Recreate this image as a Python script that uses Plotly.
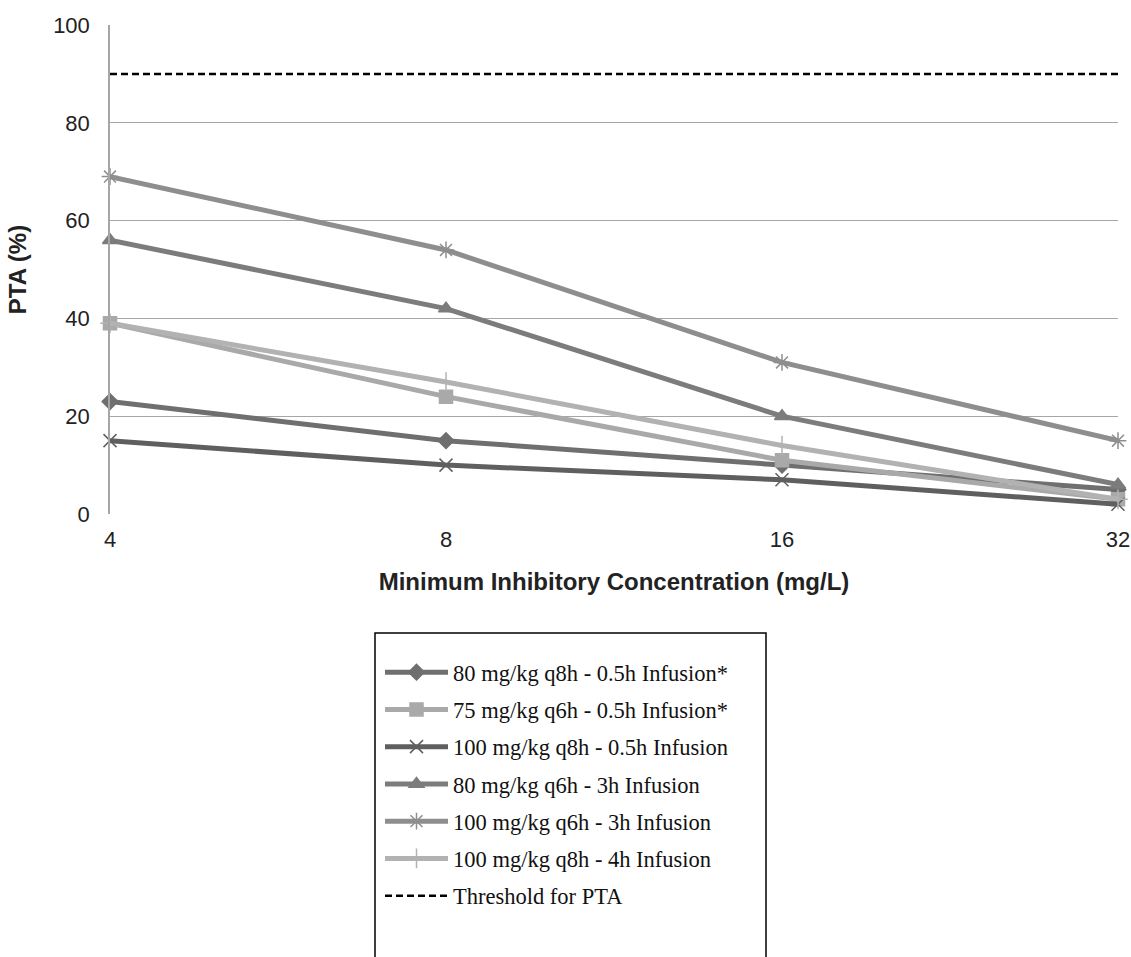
import plotly.graph_objects as go

mic = ["4", "8", "16", "32"]
names = [
    "80 mg/kg q8h - 0.5h Infusion*",
    "75 mg/kg q6h - 0.5h Infusion*",
    "100 mg/kg q8h - 0.5h Infusion",
    "80 mg/kg q6h - 3h Infusion",
    "100 mg/kg q6h - 3h Infusion",
    "100 mg/kg q8h - 4h Infusion",
]
s1 = [23, 15, 10, 5]
s2 = [39, 24, 11, 3]
s3 = [15, 10, 7, 2]
s4 = [56, 42, 20, 6]
s5 = [69, 54, 31, 15]
s6 = [39, 27, 14, 3]
threshold = [90, 90, 90, 90]
threshold_name = "Threshold for PTA"

series = [s1, s2, s3, s4, s5, s6]
colors = ["#6f6f6f", "#a9a9a9", "#5f5f5f", "#7c7c7c", "#8e8e8e", "#b2b2b2"]
symbols = ["diamond", "square", "x-thin-open", "triangle-up", "asterisk-open", "cross-thin-open"]
sizes = [12, 13, 13, 13, 14, 14]

FW, FH = 1131, 957
L, T, W, H = 110, 25, 1008, 489

fig = go.Figure()
for i, (name, vals, c, sym, sz) in enumerate(zip(names, series, colors, symbols, sizes)):
    fig.add_trace(go.Scatter(
        x=mic, y=vals, name=name, mode="lines+markers", legendgroup=f"g{i}",
        line=dict(color=c, width=5),
        marker=dict(symbol=sym, size=sz, color=c, line=dict(color=c, width=1.5)),
        cliponaxis=False,
    ))
fig.add_trace(go.Scatter(
    x=mic, y=threshold, name=threshold_name, mode="lines", legendgroup="thr",
    line=dict(color="black", width=2.5, dash="7px,4px"),
    cliponaxis=False,
))

fig.add_shape(type="rect", xref="paper", yref="paper",
              x0=(375 - L) / W, x1=(766 - L) / W,
              y0=-1.0, y1=-(633 - (T + H)) / H,
              line=dict(color="black", width=1.5), fillcolor="rgba(0,0,0,0)", layer="below")

fig.update_layout(
    width=FW, height=FH,
    margin=dict(l=L, r=FW - L - W, t=T, b=FH - T - H, autoexpand=False),
    plot_bgcolor="white", paper_bgcolor="white",
    font=dict(family="Liberation Sans, Arial", size=22, color="#222222"),
    showlegend=True,
    legend=dict(
        x=(380 - L) / W, y=-(651 - (T + H)) / H, xanchor="left", yanchor="top",
        font=dict(family="Liberation Serif, Times New Roman", size=22.5, color="#111111"),
        borderwidth=0, bgcolor="rgba(0,0,0,0)",
        itemwidth=63, tracegroupgap=5,
    ),
    xaxis=dict(
        type="category", range=[0, 3], showgrid=False, showline=False, zeroline=False,
        ticks="", ticklabelstandoff=10, automargin=False,
        title=dict(text="<b>Minimum Inhibitory Concentration (mg/L)</b>", standoff=22,
                   font=dict(size=24)),
    ),
    yaxis=dict(
        range=[0, 100], dtick=20, showgrid=True, gridcolor="#a6a6a6", gridwidth=1.2,
        showline=True, linecolor="#a6a6a6", linewidth=1.5, zeroline=False,
        ticks="", ticklabelstandoff=14, automargin=False,
        title=dict(text="<b>PTA (%)</b>", standoff=20, font=dict(size=24)),
    ),
)

fig.write_html("out.html", config={"displayModeBar": False},
               post_script="document.body.style.margin='0';document.body.style.overflow='hidden';")
